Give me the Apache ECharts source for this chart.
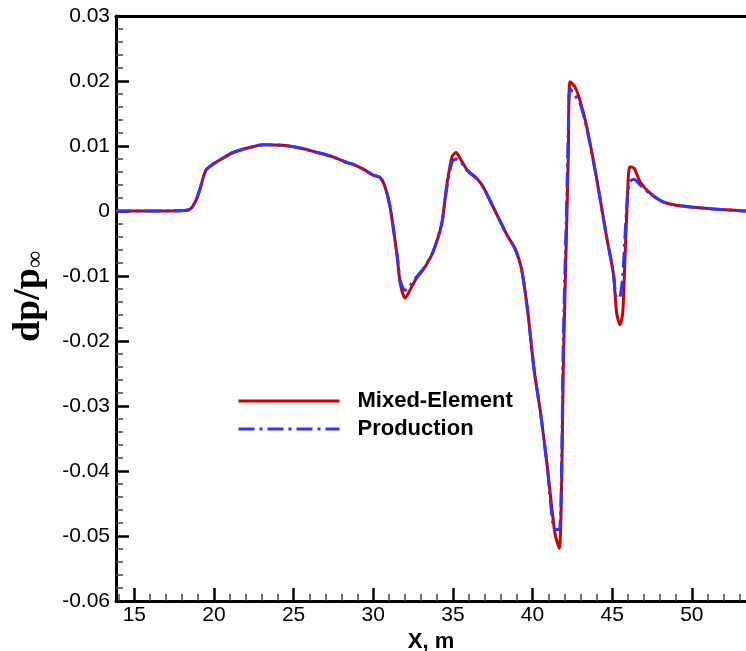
<!DOCTYPE html>
<html>
<head>
<meta charset="utf-8">
<script src="https://cdn.jsdelivr.net/npm/echarts@6/dist/echarts.min.js"></script>
<style>
html,body{margin:0;padding:0;background:#fff;}
#c{width:746px;height:651px;}
</style>
</head>
<body>
<div id="c"></div>
<script>
// ---- data ----
const xValues = [13.85, 15, 17, 18.3, 18.6, 18.9, 19.1, 19.5, 20.0, 20.4, 21.2, 22.3, 23.1, 24.3, 25.4, 26.5, 27.5, 28.4, 28.7, 29.4, 30.0, 30.4, 30.7, 31.05, 31.5, 31.7, 32.0, 32.3, 32.7, 33.2, 33.75, 34.3, 34.6, 34.95, 35.2, 35.45, 35.9, 36.5, 36.9, 37.55, 38.4, 38.9, 39.3, 39.7, 40.1, 40.5, 40.9, 41.4, 41.68, 41.83, 41.93, 42.14, 42.24, 42.35, 42.66, 42.97, 43.4, 44.0, 44.65, 45.07, 45.28, 45.49, 45.66, 45.8, 45.95, 46.1, 46.37, 46.75, 47.4, 48.2, 49.26, 51.35, 53.4];
const mixedElement = [0, 0, 0, 0.0001, 0.0005, 0.0018, 0.0032, 0.0063, 0.0073, 0.0079, 0.009, 0.0098, 0.0102, 0.0101, 0.0097, 0.009, 0.0083, 0.0074, 0.0072, 0.0064, 0.0055, 0.0052, 0.0040, 0.0007, -0.0070, -0.0112, -0.0134, -0.0122, -0.0104, -0.0088, -0.0063, -0.0019, 0.0037, 0.0084, 0.0090, 0.0081, 0.0063, 0.0050, 0.0037, 0.0005, -0.0037, -0.0058, -0.0088, -0.0155, -0.0245, -0.0310, -0.0388, -0.0495, -0.0519, -0.0414, -0.0240, -0.0024, 0.0078, 0.0199, 0.0191, 0.0171, 0.0130, 0.0053, -0.0040, -0.0096, -0.0157, -0.0175, -0.0157, -0.0075, 0.0017, 0.0068, 0.0066, 0.0045, 0.0027, 0.0014, 0.0008, 0.0003, 0.0];
const production = [0, 0, 0, 0.0001, 0.0005, 0.0018, 0.0032, 0.0063, 0.0073, 0.0079, 0.009, 0.0098, 0.0102, 0.0101, 0.0097, 0.009, 0.0083, 0.0074, 0.0072, 0.0064, 0.0055, 0.0052, 0.0040, 0.0007, -0.0068, -0.0108, -0.0122, -0.0115, -0.0102, -0.0087, -0.0063, -0.0020, 0.0033, 0.0076, 0.0080, 0.0077, 0.0062, 0.0050, 0.0037, 0.0005, -0.0037, -0.0058, -0.0088, -0.0155, -0.0245, -0.0310, -0.0388, -0.0490, -0.0490, -0.0380, -0.0200, 0.0010, 0.0120, 0.0188, 0.0178, 0.0166, 0.0128, 0.0053, -0.0040, -0.0094, -0.0134, -0.0132, -0.0100, -0.0040, 0.0020, 0.0045, 0.0049, 0.0040, 0.0026, 0.0014, 0.0008, 0.0003, 0.0];
const xMajorTicks = [15, 20, 25, 30, 35, 40, 45, 50];
const xMinorTicks = [14, 16, 17, 18, 19, 21, 22, 23, 24, 26, 27, 28, 29, 31, 32, 33, 34, 36, 37, 38, 39, 41, 42, 43, 44, 46, 47, 48, 49, 51, 52, 53];
const xRange = [13.85, 53.4];
const yRange = [-0.06, 0.03];
const yStep = 0.01;
const seriesNames = ['Mixed-Element', 'Production'];

const pairs = (xs, ys) => xs.map((x, i) => [x, ys[i]]);

const chart = echarts.init(document.getElementById('c'), null, {renderer: 'canvas'});
const labelFont = {color: '#000', fontFamily: 'Liberation Sans, Arial, sans-serif', fontSize: 21};
chart.setOption({
  animation: false,
  backgroundColor: '#fff',
  grid: {left: 116, right: 0, top: 16, bottom: 50, containLabel: false, outerBoundsMode: 'none'},
  legend: {
    orient: 'vertical', left: 237, top: 390, padding: 0,
    itemWidth: 101, itemHeight: 22, itemGap: 6,
    data: seriesNames,
    itemStyle: {opacity: 0},
    lineStyle: {width: 3},
    textStyle: {color: '#000', fontFamily: 'Liberation Sans, Arial, sans-serif', fontWeight: 'bold', fontSize: 22, lineHeight: 22, padding: [0, 0, 0, 13]}
  },
  xAxis: [
    {
      type: 'value', position: 'bottom', min: xRange[0], max: xRange[1],
      name: 'X, m', nameLocation: 'middle', nameGap: 25,
      nameTextStyle: {color: '#000', fontFamily: 'Liberation Sans, Arial, sans-serif', fontWeight: 'bold', fontSize: 22},
      axisLine: {show: true, onZero: false, lineStyle: {color: '#000', width: 3}},
      axisTick: {show: true, inside: true, length: 13, lineStyle: {color: '#000', width: 2.5}, customValues: xMajorTicks},
      axisLabel: Object.assign({margin: 4, customValues: xMajorTicks}, labelFont),
      splitLine: {show: false}
    },
    {
      type: 'value', position: 'bottom', min: xRange[0], max: xRange[1],
      axisLine: {show: false, onZero: false},
      axisTick: {show: true, inside: true, length: 7, lineStyle: {color: '#444', width: 1.5}, customValues: xMinorTicks},
      axisLabel: {show: false},
      splitLine: {show: false}
    },
    {
      type: 'value', position: 'top', min: xRange[0], max: xRange[1],
      axisLine: {show: true, onZero: false, lineStyle: {color: '#000', width: 3}},
      axisTick: {show: false}, axisLabel: {show: false}, splitLine: {show: false}
    }
  ],
  yAxis: {
    type: 'value', min: yRange[0], max: yRange[1], interval: yStep,
    name: '{a|dp/p}{b|∞}', nameLocation: 'middle', nameGap: 68, nameRotate: 90,
    nameTextStyle: {
      rich: {
        a: {fontFamily: 'Liberation Serif, Times New Roman, serif', fontWeight: 'bold', fontSize: 38, color: '#000', verticalAlign: 'bottom', lineHeight: 42, padding: [0, 0, 0, 24]},
        b: {fontFamily: 'Liberation Serif, Times New Roman, serif', fontSize: 24, color: '#000', verticalAlign: 'bottom', lineHeight: 42}
      }
    },
    axisLine: {show: true, lineStyle: {color: '#000', width: 3}},
    axisTick: {show: true, inside: true, length: 13, lineStyle: {color: '#000', width: 2.5}},
    minorTick: {show: true, splitNumber: 5, length: 7, lineStyle: {color: '#444', width: 1.5}},
    axisLabel: Object.assign({margin: 6, showMinLabel: true, showMaxLabel: true}, labelFont),
    splitLine: {show: false}
  },
  series: [
    {
      name: seriesNames[0], type: 'line', xAxisIndex: 0, data: pairs(xValues, mixedElement),
      symbol: 'none', smooth: 0.25, clip: true,
      lineStyle: {color: '#cc0000', width: 3}, itemStyle: {color: '#cc0000'}
    },
    {
      name: seriesNames[1], type: 'line', xAxisIndex: 0, data: pairs(xValues, production),
      symbol: 'none', smooth: 0.25, clip: true,
      lineStyle: {color: '#3333ff', width: 3, type: [16, 5, 3, 5]}, itemStyle: {color: '#3333ff'}
    }
  ]
});
</script>
</body>
</html>
